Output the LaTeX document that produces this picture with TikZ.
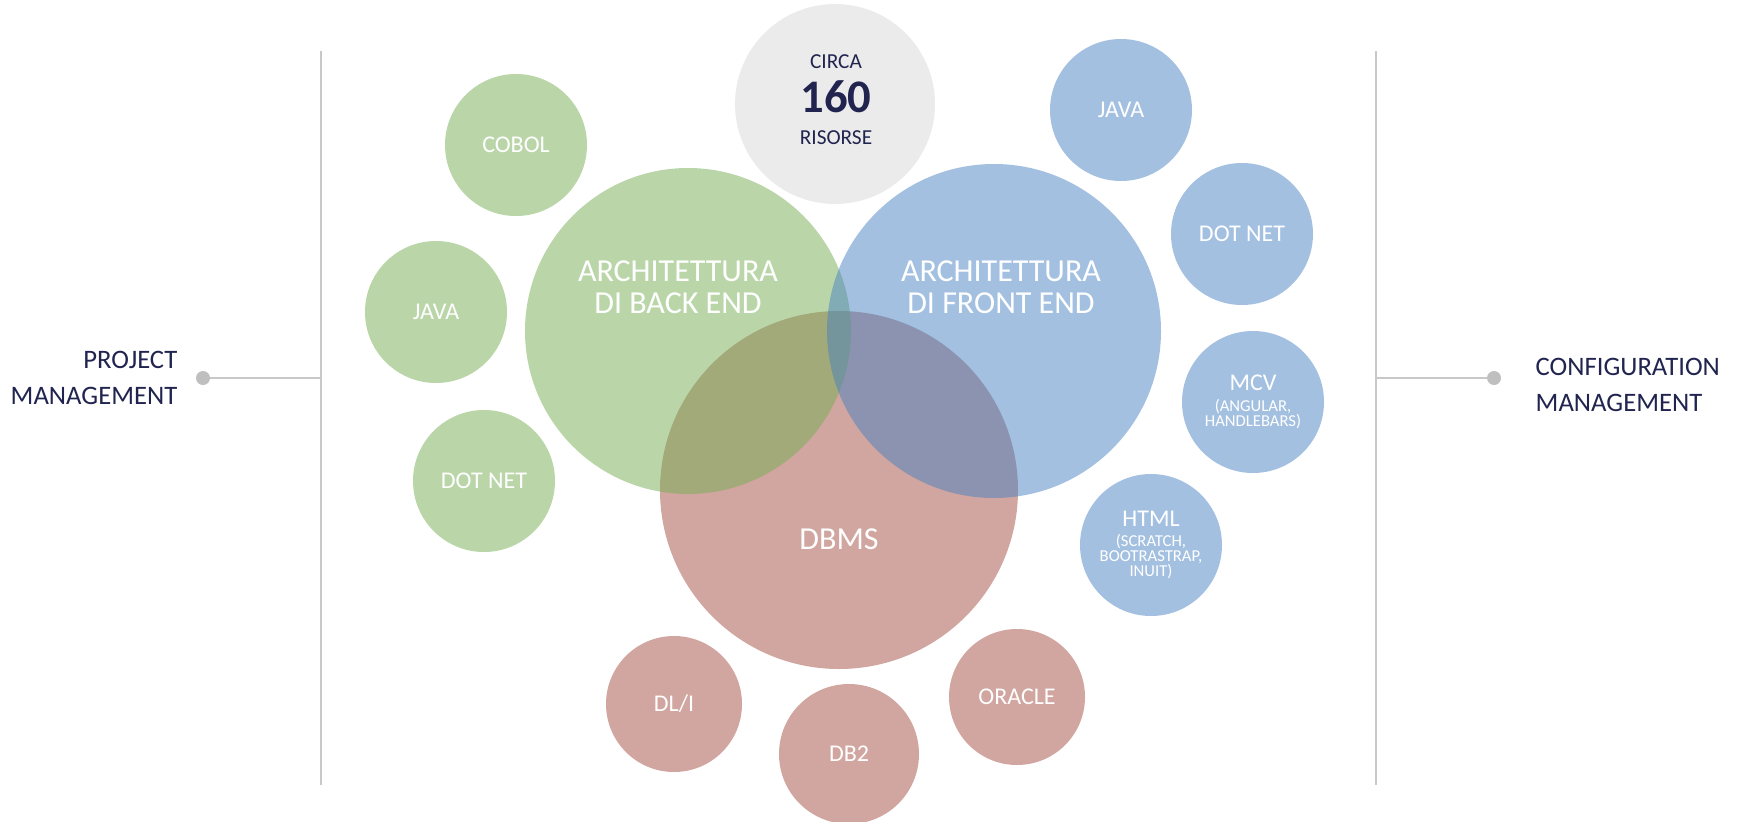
\documentclass[tikz,border=0pt]{standalone}
\usepackage{fontspec}
\setmainfont{Carlito}
\usepackage{tikz}

\definecolor{navy}{RGB}{32,36,79}
\definecolor{backgreen}{RGB}{118,174,84}
\definecolor{frontblue}{RGB}{72,130,194}
\definecolor{dbrose}{RGB}{209,166,160}
\definecolor{poolgray}{RGB}{235,235,235}
\definecolor{rulegray}{RGB}{200,200,200}
\definecolor{dotgray}{RGB}{191,191,191}
\newcommand{\bubblesub}{\fontsize{12.5}{12.5}\selectfont}

\begin{document}
\begin{tikzpicture}[x=0.75pt, y=-0.75pt,
  bubble/.style={circle, inner sep=0pt, align=center, text=white},
  small/.style={bubble, minimum size=106.5pt, font=\fontsize{18}{19}\selectfont},
  green/.style={fill=backgreen, fill opacity=0.5, text opacity=1},
  blue/.style={fill=frontblue, fill opacity=0.5, text opacity=1},
  rose/.style={fill=dbrose},
  bigtext/.style={text=white, align=center, font=\fontsize{24}{24}\selectfont},
  sidetext/.style={text=navy, font=\fontsize{20}{27.5}\selectfont},
  sep/.style={rulegray, line width=1.1pt},
  conn/.style={rulegray, line width=1pt},
  dot/.style={circle, fill=dotgray, minimum size=10.5pt, inner sep=0pt}]
\useasboundingbox (0,0) rectangle (1741,821);

% side rules
\draw [sep] (321,51) -- (321,785);
\draw [sep] (1376,51) -- (1376,785);

% small bubbles, back end
\node [small, green] (cobol) at (516,145) {COBOL};
\node [small, green] (javab) at (436,312) {JAVA};
\node [small, green] (dotnetb) at (484,481) {DOT NET};

% small bubbles, front end
\node [small, blue] (javaf) at (1121,110) {JAVA};
\node [small, blue] (dotnetf) at (1242,234) {DOT NET};
\node [small, blue] (mcv) at (1253,402) {MCV\\[-3.5pt]\bubblesub (ANGULAR,\\[-8pt]\bubblesub HANDLEBARS)};
\node [small, blue] (html) at (1151,545) {HTML\\[-4pt]\bubblesub (SCRATCH,\\[-7.5pt]\bubblesub BOOTRASTRAP,\\[-7.5pt]\bubblesub INUIT)};

% small bubbles, dbms
\node [small, rose, minimum size=102pt] (dli) at (674,704) {DL/I};
\node [small, rose, minimum size=105pt] (db2) at (849,754) {DB2};
\node [small, rose, minimum size=102pt] (oracle) at (1017,697) {ORACLE};

% resources
\node [bubble, fill=poolgray, minimum size=150pt] (pool) at (835,104) {};
\node [text=navy, font=\fontsize{16}{16}\selectfont] (circa) at (836,62) {CIRCA};
\node [text=navy, font=\fontsize{35}{35}\selectfont\bfseries] (count) at (836,97) {160};
\node [text=navy, font=\fontsize{16}{16}\selectfont] (risorse) at (836,138) {RISORSE};

% big bubbles
\node [bubble, rose, minimum size=268.5pt] (dbms) at (839,490) {};
\node [bubble, green, minimum size=244.5pt] (backend) at (688,331) {};
\node [bubble, blue, minimum size=250.5pt] (frontend) at (994,331) {};
\node [bigtext] (backlbl) at (678,287) {ARCHITETTURA\\DI BACK END};
\node [bigtext] (frontlbl) at (1001,287) {ARCHITETTURA\\DI FRONT END};
\node [bigtext] (dbmslbl) at (839,539) {DBMS};

% side labels
\node [dot] (pmdot) at (203,378) {};
\coordinate (pmjoin) at (321,378);
\draw [conn] (pmdot) -- (pmjoin);
\node [sidetext, anchor=east, align=right] (pm) at (182,378) {PROJECT\\MANAGEMENT};

\node [dot] (cmdot) at (1494,378) {};
\coordinate (cmjoin) at (1376,378);
\draw [conn] (cmjoin) -- (cmdot);
\node [sidetext, anchor=west, align=left] (cm) at (1531,385) {CONFIGURATION\\MANAGEMENT};
\end{tikzpicture}
\end{document}
